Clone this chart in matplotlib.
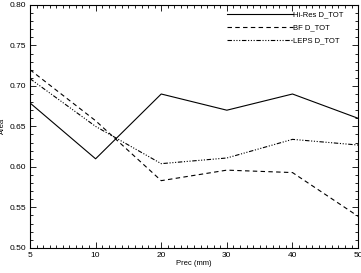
import numpy as np
import matplotlib.pyplot as plt
from matplotlib.ticker import AutoMinorLocator, MultipleLocator

plt.rcParams['font.family'] = ['Liberation Sans', 'DejaVu Sans']

# Precipitation thresholds (categorical x axis)
prec_labels = ['5', '10', '20', '30', '40', '50']

# Area values
hires = [0.679, 0.610, 0.690, 0.670, 0.690, 0.660]
bf = [0.720, 0.657, 0.583, 0.596, 0.593, 0.539]
leps = [0.709, 0.650, 0.604, 0.611, 0.634, 0.627]

x = np.arange(len(prec_labels))

fig = plt.figure(figsize=(3.61, 2.73), dpi=100)
ax = fig.add_axes([0.083, 0.092, 0.909, 0.890])

lw = 0.8
ax.plot(x, hires, color='black', lw=lw, ls='-', label='Hi-Res D_TOT')
ax.plot(x, bf, color='black', lw=lw, ls=(0, (4, 3)), label='BF D_TOT')
ax.plot(x, leps, color='black', lw=lw, ls=(0, (4, 1.5, 1, 1.5, 1, 1.5, 1, 1.5)),
        label='LEPS D_TOT')

ax.set_xlim(x[0], x[-1])
ax.set_ylim(0.50, 0.80)
ax.set_xticks(x)
ax.set_xticklabels(prec_labels)
ax.yaxis.set_major_locator(MultipleLocator(0.05))
ax.yaxis.set_major_formatter(plt.FormatStrFormatter('%.2f'))
ax.xaxis.set_minor_locator(AutoMinorLocator(10))
ax.yaxis.set_minor_locator(AutoMinorLocator(5))

ax.tick_params(which='both', direction='in', top=True, right=True,
               labelsize=6, width=0.6, pad=3)
ax.tick_params(which='major', length=4)
ax.tick_params(which='minor', length=2)
for s in ax.spines.values():
    s.set_linewidth(0.8)

ax.set_xlabel('Prec (mm)', fontsize=5.5, labelpad=1)
ax.set_ylabel('Area', fontsize=5.5, labelpad=2)

ax.legend(loc='upper left', bbox_to_anchor=(0.60, 0.975), frameon=False,
          fontsize=5.5, handlelength=8.6, handletextpad=0.0,
          labelspacing=0.75, borderaxespad=0, borderpad=0)

fig.savefig('out.png', dpi=100)
